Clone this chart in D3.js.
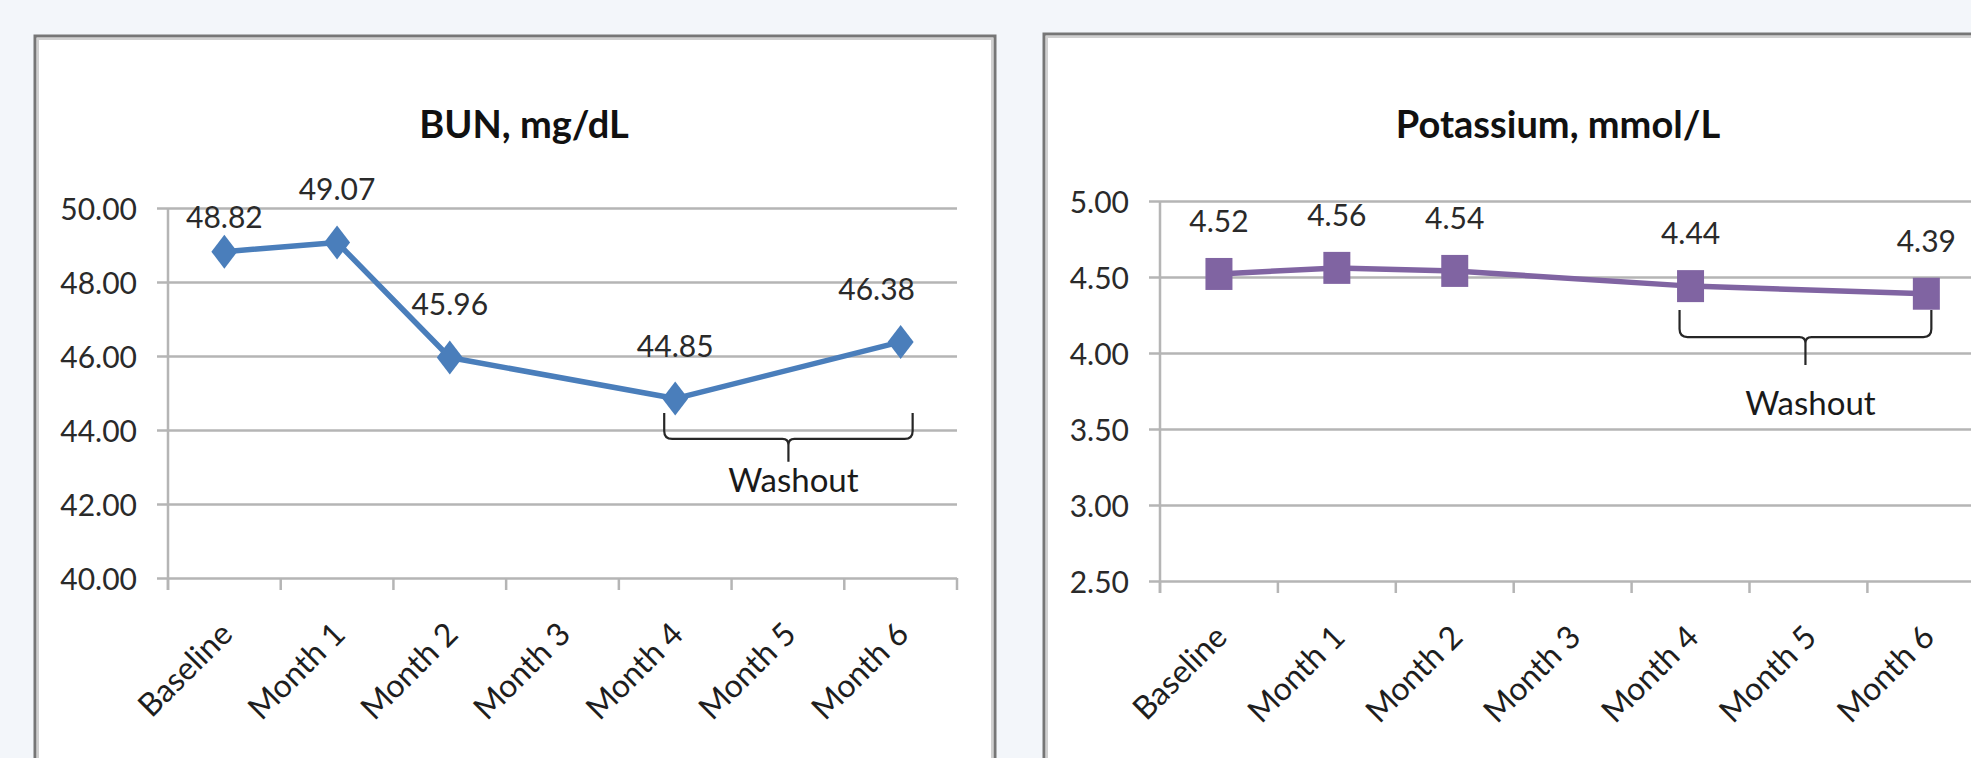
<!DOCTYPE html>
<html>
<head>
<meta charset="utf-8">
<script src="https://cdn.jsdelivr.net/npm/d3@7"></script>
<style>
  html, body { margin: 0; padding: 0; background: #f3f6fa; overflow: hidden; }
  svg { display: block; font-family: Lato, "Noto Sans", sans-serif; }
</style>
</head>
<body>
<svg id="chart" width="1971" height="758"></svg>
<script>
// Visits on the x axis
const categories = ["Baseline", "Month 1", "Month 2", "Month 3", "Month 4", "Month 5", "Month 6"];

// Blood urea nitrogen, mg/dL (no visit at months 3 and 5)
const bunValues = [48.82, 49.07, 45.96, null, 44.85, null, 46.38];
const bunTicks = [40, 42, 44, 46, 48, 50];

// Serum potassium, mmol/L
const potassiumValues = [4.52, 4.56, 4.54, null, 4.44, null, 4.39];
const potassiumTicks = [2.5, 3.0, 3.5, 4.0, 4.5, 5.0];

// Washout period bracket
const washoutSpan = ["Month 4", "Month 6"];
const washoutLabel = "Washout";

const svg = d3.select("#chart");

function drawPanel(cfg) {
  const g = svg.append("g");

  // framed chart area
  g.append("rect")
    .attr("x", cfg.frame.x).attr("y", cfg.frame.y)
    .attr("width", cfg.frame.w).attr("height", cfg.frame.h)
    .attr("fill", "#ffffff").attr("stroke", "#767676").attr("stroke-width", 3);
  g.append("rect")
    .attr("x", cfg.frame.x + 3).attr("y", cfg.frame.y + 3)
    .attr("width", cfg.frame.w - 6).attr("height", cfg.frame.h - 6)
    .attr("fill", "none").attr("stroke", "#d0d0d0").attr("stroke-width", 2);

  const x = d3.scaleBand().domain(categories).range([cfg.x0, cfg.x1]).paddingInner(0).paddingOuter(0);
  const cx = c => x(c) + x.bandwidth() / 2;
  const y = d3.scaleLinear().domain(d3.extent(cfg.ticks)).range([cfg.yBottom, cfg.yTop]);

  // title
  g.append("text")
    .attr("x", cfg.titleX).attr("y", cfg.titleY)
    .attr("text-anchor", "middle")
    .attr("font-size", 38).attr("font-weight", "bold").attr("fill", "#111")
    .text(cfg.title);

  // value axis with gridlines
  const tickOut = 11;
  const yAxis = d3.axisLeft(y)
    .tickValues(cfg.ticks)
    .tickFormat(d3.format(".2f"))
    .tickSizeInner(-(cfg.x1 - cfg.x0 + tickOut))
    .tickSizeOuter(0)
    .tickPadding(20);
  const ya = g.append("g")
    .attr("transform", `translate(${cfg.x0 - tickOut},0)`)
    .call(yAxis);
  ya.select(".domain").remove();
  ya.selectAll(".tick line").attr("stroke", "#b5b5b5").attr("stroke-width", 2.5);
  ya.selectAll(".tick text")
    .attr("font-size", 30).attr("fill", "#2a2a2a").attr("dy", "0.38em")
    .attr("font-family", "Lato, sans-serif");

  // category axis: vertical axis line, boundary ticks, rotated labels
  const tickDown = 12;
  g.append("line")
    .attr("x1", cfg.x0).attr("x2", cfg.x0)
    .attr("y1", cfg.yTop).attr("y2", cfg.yBottom + tickDown)
    .attr("stroke", "#b5b5b5").attr("stroke-width", 2.5);
  g.selectAll(".cat-tick")
    .data(d3.range(categories.length + 1))
    .join("line")
    .attr("class", "cat-tick")
    .attr("x1", i => cfg.x0 + i * x.step()).attr("x2", i => cfg.x0 + i * x.step())
    .attr("y1", cfg.yBottom).attr("y2", cfg.yBottom + tickDown)
    .attr("stroke", "#b5b5b5").attr("stroke-width", 2.5);

  const xAxis = d3.axisBottom(x).tickSize(0);
  const xa = g.append("g")
    .attr("transform", `translate(0,${cfg.yBottom})`)
    .call(xAxis);
  xa.select(".domain").remove();
  xa.selectAll(".tick text")
    .attr("x", 0).attr("y", 0).attr("dy", 0)
    .attr("text-anchor", "end")
    .attr("transform", "translate(10,58) rotate(-45)")
    .attr("font-size", 32).attr("fill", "#1e1e1e")
    .attr("font-family", "Lato, sans-serif");

  // series
  const pts = categories
    .map((c, i) => ({ c, v: cfg.values[i] }))
    .filter(d => d.v !== null);

  const line = d3.line().x(d => cx(d.c)).y(d => y(d.v));
  g.append("path")
    .datum(pts)
    .attr("d", line)
    .attr("fill", "none")
    .attr("stroke", cfg.color).attr("stroke-width", 5.5)
    .attr("stroke-linejoin", "round");

  const mw = cfg.markerW / 2, mh = cfg.markerH / 2;
  const shape = cfg.marker === "diamond"
    ? `M0,${-mh} L${mw},0 L0,${mh} L${-mw},0 Z`
    : `M${-mw},${-mh} H${mw} V${mh} H${-mw} Z`;
  g.selectAll(".marker")
    .data(pts)
    .join("path")
    .attr("class", "marker")
    .attr("transform", d => `translate(${cx(d.c)},${y(d.v)})`)
    .attr("d", shape)
    .attr("fill", cfg.color);

  // value labels above points
  g.selectAll(".value-label")
    .data(pts)
    .join("text")
    .attr("class", "value-label")
    .attr("x", d => cx(d.c) + ((cfg.nudge[d.c] || [0, 0])[0]))
    .attr("y", d => y(d.v) - 42 + ((cfg.nudge[d.c] || [0, 0])[1]))
    .attr("text-anchor", "middle")
    .attr("font-size", 30).attr("fill", "#2a2a2a")
    .text(d => d3.format(".2f")(d.v));

  // washout bracket
  const b = cfg.bracket;
  const xl = cx(washoutSpan[0]) + b.padL;
  const xr = cx(washoutSpan[1]) + b.padR;
  const xm = (xl + xr) / 2;
  const yT = y(b.top), yB = y(b.bar), yP = y(b.tip);
  const r = 8, s = 6;
  const p = d3.path();
  p.moveTo(xl, yT); p.lineTo(xl, yB - r); p.quadraticCurveTo(xl, yB, xl + r, yB);
  p.lineTo(xm - s, yB); p.quadraticCurveTo(xm, yB, xm, yB + s); p.lineTo(xm, yP);
  p.moveTo(xm, yB + s); p.quadraticCurveTo(xm, yB, xm + s, yB);
  p.lineTo(xr - r, yB); p.quadraticCurveTo(xr, yB, xr, yB - r); p.lineTo(xr, yT);
  g.append("path")
    .attr("d", p.toString())
    .attr("fill", "none").attr("stroke", "#262626").attr("stroke-width", 2.2);
  g.append("text")
    .attr("x", xm + 5).attr("y", y(b.text))
    .attr("text-anchor", "middle")
    .attr("font-size", 33).attr("fill", "#1a1a1a")
    .text(washoutLabel);
}

drawPanel({
  title: "BUN, mg/dL",
  values: bunValues,
  ticks: bunTicks,
  color: "#4a7ebb",
  marker: "diamond", markerW: 26, markerH: 34,
  frame: { x: 35, y: 36, w: 960, h: 760 },
  x0: 168, x1: 957, yTop: 208, yBottom: 578,
  titleX: 524, titleY: 138,
  nudge: { "Baseline": [0, 18], "Month 6": [-24, 0] },
  bracket: { padL: -11, padR: 12, top: 44.46, bar: 43.76, tip: 43.14, text: 42.32 }
});

drawPanel({
  title: "Potassium, mmol/L",
  values: potassiumValues,
  ticks: potassiumTicks,
  color: "#8064a2",
  marker: "square", markerW: 27, markerH: 32,
  frame: { x: 1044, y: 34, w: 1000, h: 760 },
  x0: 1160, x1: 1160 + 7 * 117.9, yTop: 201, yBottom: 581,
  titleX: 1558, titleY: 138,
  nudge: {},
  bracket: { padL: -11, padR: 5, top: 4.283, bar: 4.105, tip: 3.921, text: 3.592 }
});
</script>
</body>
</html>
